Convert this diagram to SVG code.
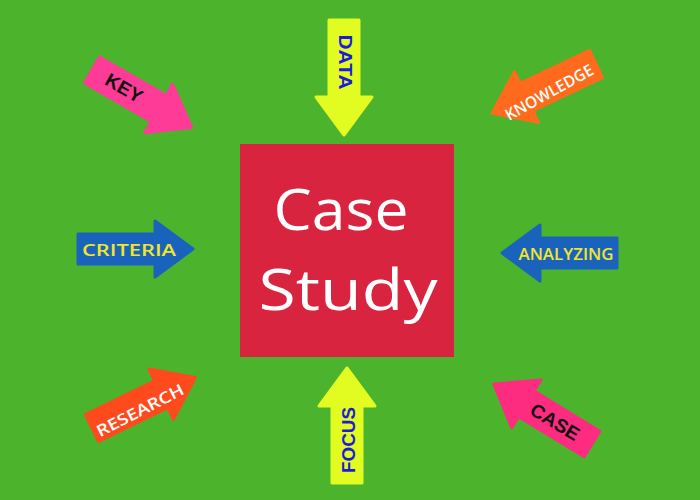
<svg xmlns="http://www.w3.org/2000/svg" xmlns:xlink="http://www.w3.org/1999/xlink" width="700" height="500" viewBox="0 0 700 500">
<style>
.bold{font-family:"Liberation Sans",Arial,sans-serif;font-weight:bold;font-size:19px;text-anchor:middle;dominant-baseline:central}
.comic{font-family:"Open Sans","DejaVu Sans",sans-serif;font-weight:600;font-size:16px;text-anchor:middle;dominant-baseline:central}
.title{font-family:"Open Sans","DejaVu Sans",sans-serif;font-size:57px;fill:#ffffff;text-anchor:middle}
.arr{stroke-linejoin:round;stroke-width:3}
</style>
<defs>
<path id="arrow" d="M0,-15 H77 V-28 L115,0 L77,28 V15 H0 Z"/>
</defs>
<rect width="700" height="500" fill="#4cb32c"/>
<g id="center">
<rect x="240" y="144" width="214" height="213" fill="#d9243f"/>
<text class="title" x="341" y="230" textLength="135" lengthAdjust="spacingAndGlyphs">Case</text>
<text class="title" x="348" y="310" textLength="179" lengthAdjust="spacingAndGlyphs">Study</text>
</g>
<g id="connectors">
<g id="key">
<use xlink:href="#arrow" class="arr" fill="#ff3b98" stroke="#ff3b98" transform="translate(92,70) rotate(30)"/>
<text class="bold" fill="#111" transform="translate(124,88) rotate(30)" textLength="40" lengthAdjust="spacingAndGlyphs">KEY</text>
</g>
<g id="data">
<use xlink:href="#arrow" class="arr" fill="#e2fb20" stroke="#e2fb20" transform="translate(344,20) rotate(90)"/>
<text class="bold" fill="#1c1cd8" transform="translate(345,62) rotate(90)" textLength="55" lengthAdjust="spacingAndGlyphs">DATA</text>
</g>
<g id="knowledge">
<use xlink:href="#arrow" class="arr" fill="#ff6a1c" stroke="#ff6a1c" transform="translate(596,64) rotate(154.6)"/>
<text class="comic" fill="#ffffff" transform="translate(549,92) rotate(-29)" textLength="98" lengthAdjust="spacingAndGlyphs">KNOWLEDGE</text>
</g>
<g id="criteria">
<use xlink:href="#arrow" class="arr" fill="#1a63bd" stroke="#1a63bd" transform="translate(78,249)"/>
<text class="comic" fill="#f2e62a" x="129" y="250" textLength="94" lengthAdjust="spacingAndGlyphs">CRITERIA</text>
</g>
<g id="analyzing">
<use xlink:href="#arrow" class="arr" fill="#1a63bd" stroke="#1a63bd" transform="translate(617,253) rotate(180)"/>
<text class="comic" fill="#f2e62a" x="566" y="254" textLength="95" lengthAdjust="spacingAndGlyphs">ANALYZING</text>
</g>
<g id="research">
<use xlink:href="#arrow" class="arr" fill="#ff4a1e" stroke="#ff4a1e" transform="translate(92,428) rotate(-26)"/>
<text class="comic" fill="#ffffff" transform="translate(140,410) rotate(-27)" textLength="96" lengthAdjust="spacingAndGlyphs">RESEARCH</text>
</g>
<g id="focus">
<use xlink:href="#arrow" class="arr" fill="#e2fb20" stroke="#e2fb20" transform="translate(347,483) rotate(-90)"/>
<text class="bold" fill="#1c1cd8" transform="translate(348,440) rotate(-90)" textLength="66" lengthAdjust="spacingAndGlyphs">FOCUS</text>
</g>
<g id="case">
<use xlink:href="#arrow" class="arr" fill="#fd2c80" stroke="#fd2c80" transform="translate(592,444) rotate(211.4)"/>
<text class="bold" fill="#111" transform="translate(555,422) rotate(31.4)" textLength="54" lengthAdjust="spacingAndGlyphs">CASE</text>
</g>
</g>
</svg>
